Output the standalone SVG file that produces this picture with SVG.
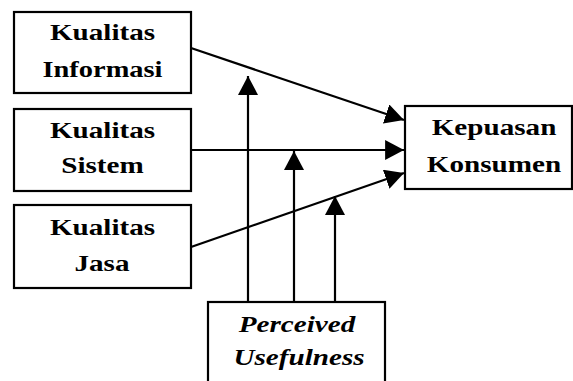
<svg xmlns="http://www.w3.org/2000/svg" width="573" height="381" viewBox="0 0 573 381">
<style>
.box{fill:#fff;stroke:#000;stroke-width:2.2}
.t{font-family:'Liberation Serif','Times New Roman',serif;font-weight:700;font-size:23.5px;fill:#000;text-anchor:middle}
.i{font-style:italic}
.c{stroke:#000;stroke-width:2.2;fill:none;marker-end:url(#ah)}
</style>
<defs>
<marker id="ah" markerUnits="userSpaceOnUse" markerWidth="20" markerHeight="20" viewBox="0 0 18 18" refX="17" refY="9" orient="auto">
<path d="M0,0 L17,9 L0,18 Z" fill="#000"/>
</marker>
</defs>
<rect width="573" height="381" fill="#fff"/>
<g id="connectors">
<line class="c" x1="191" y1="48" x2="404" y2="120"/>
<line class="c" x1="191" y1="150" x2="404" y2="150"/>
<line class="c" x1="191" y1="247" x2="404" y2="173"/>
<line class="c" x1="248" y1="302" x2="248" y2="76"/>
<line class="c" x1="294" y1="302" x2="294" y2="151"/>
<line class="c" x1="335" y1="302" x2="335" y2="196"/>
</g>
<g id="kualitas-informasi">
<rect class="box" x="14" y="12" width="177" height="81"/>
<text class="t" transform="translate(102.5,40) scale(1.24,1)">Kualitas</text>
<text class="t" transform="translate(102.5,77) scale(1.21,1)">Informasi</text>
</g>
<g id="kualitas-sistem">
<rect class="box" x="14" y="109" width="177" height="82"/>
<text class="t" transform="translate(102.5,138) scale(1.24,1)">Kualitas</text>
<text class="t" transform="translate(102.5,173) scale(1.24,1)">Sistem</text>
</g>
<g id="kualitas-jasa">
<rect class="box" x="14" y="205" width="177" height="83"/>
<text class="t" transform="translate(102.5,235) scale(1.24,1)">Kualitas</text>
<text class="t" transform="translate(102,271) scale(1.24,1)">Jasa</text>
</g>
<g id="kepuasan-konsumen">
<rect class="box" x="405" y="106" width="167" height="83"/>
<text class="t" transform="translate(494,135) scale(1.24,1)">Kepuasan</text>
<text class="t" transform="translate(494,172) scale(1.24,1)">Konsumen</text>
</g>
<g id="perceived-usefulness">
<rect class="box" x="208" y="302" width="177" height="85"/>
<text class="t i" transform="translate(297,332) scale(1.24,1)">Perceived</text>
<text class="t i" transform="translate(299,365) scale(1.24,1)">Usefulness</text>
</g>
</svg>
